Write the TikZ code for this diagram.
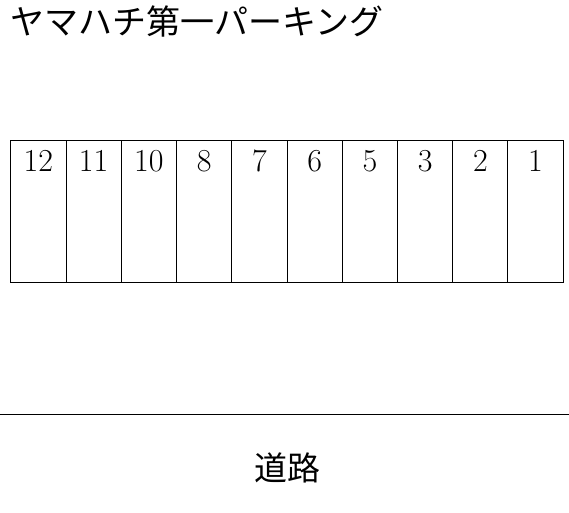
\documentclass[tikz,border=0pt]{standalone}
\usepackage{fontspec}
\newfontfamily\cjk{Noto Sans CJK JP}
\begin{document}
\begin{tikzpicture}[x=1pt,y=-1pt,
  slotbox/.style={draw,line width=1pt,rectangle,minimum width=55.24pt,minimum height=142.5pt,inner sep=0pt,anchor=north west},
  slotnum/.style={anchor=north,inner sep=0pt,font=\fontsize{32}{38}\selectfont},
  jptext/.style={inner sep=0pt,font=\cjk\fontsize{33}{40}\selectfont}]
\useasboundingbox (0,0) rectangle (569,512);
\foreach \n [count=\i from 0] in {12,11,10,8,7,6,5,3,2,1}{
  \node[slotbox] (slot\i) at ({10.3+55.24*\i},139.5) {};
  \node[slotnum] (num\i) at ([yshift=-10.5pt]slot\i.north) {\n};
}
\node[jptext,anchor=west,font=\cjk\fontsize{34}{40}\selectfont] (title) at (10,21) {ヤマハチ第一パーキング};
\coordinate (roadL) at (0,414);
\coordinate (roadR) at (569,414);
\draw[line width=1pt] (roadL) -- (roadR);
\node[jptext] (road) at (287,468) {道路};
\end{tikzpicture}
\end{document}
